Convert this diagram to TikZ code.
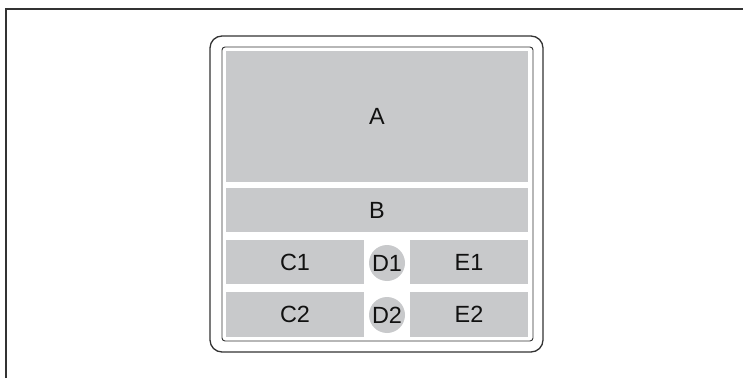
\documentclass[tikz,border=0pt]{standalone}
\usepackage{fontspec}
\setmainfont{Liberation Sans}
\usepackage{xcolor}
\usepackage{tikz}
\usetikzlibrary{
  positioning
}
\tikzset{
  panel label/.style={font=\fontsize{20}{23}\selectfont,align=center,text=ink},
  panel/.style={rectangle,fill=panelgray,draw=none,inner sep=0pt,panel label},
  marker/.style={circle,fill=panelgray,draw=none,inner sep=0pt,
    minimum size=1.08cm,panel label},
  frame line/.style={draw=framegray,line width=1.2pt},
  bezel/.style={draw=framegray,line width=1.1pt,rounded corners=3.6mm},
  screen/.style={draw=framegray,line width=.8pt,rounded corners=.9mm}
}
\definecolor{ink}{HTML}{111111}
\definecolor{framegray}{HTML}{333333}
\definecolor{panelgray}{HTML}{C8C9CB}

\begin{document}
\begin{tikzpicture}[x=1cm,y=1cm]
  \useasboundingbox (0,0) rectangle (22.29,11.34);

  % page edge
  \draw[frame line] (0.18,0) -- (0.18,11.07) -- (22.29,11.07);

  % device
  \draw[bezel] (6.30,0.78) rectangle (16.29,10.26);
  \draw[screen] (6.66,1.11) rectangle (15.99,9.93);

  \node[panel,minimum width=9.06cm,minimum height=3.93cm] (a) at (11.31,7.845) {A};
  \node[panel,minimum width=9.06cm,minimum height=1.32cm] (b) at (11.31,5.04) {B};

  \node[panel,minimum width=4.14cm,minimum height=1.32cm] (c1) at (8.85,3.48) {C1};
  \node[marker] (d1) at (11.61,3.45) {D1};
  \node[panel,minimum width=3.54cm,minimum height=1.32cm] (e1) at (14.07,3.48) {E1};

  \node[panel,minimum width=4.14cm,minimum height=1.35cm] (c2) at (8.85,1.905) {C2};
  \node[marker] (d2) at (11.61,1.89) {D2};
  \node[panel,minimum width=3.54cm,minimum height=1.35cm] (e2) at (14.07,1.905) {E2};
\end{tikzpicture}
\end{document}
